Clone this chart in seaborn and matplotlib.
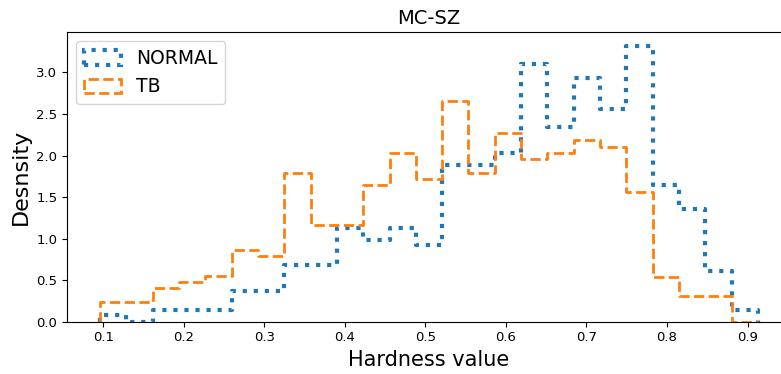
import numpy as np
import pandas as pd
import matplotlib
matplotlib.use("Agg")
import matplotlib.pyplot as plt
from matplotlib.patches import Patch
import seaborn as sns

# Hardness histogram bins (common to both groups)
HARD_MIN = 0.0959
HARD_MAX = 0.9131
N_BINS = 25

groups = ["NORMAL", "TB"]

# Density per bin, low to high hardness
normal_density = [0.08, 0.0, 0.141, 0.141, 0.141, 0.375, 0.375, 0.685, 0.685,
                  1.132, 0.979, 1.128, 0.918, 1.885, 1.885, 2.026, 3.10, 2.34,
                  2.93, 2.565, 3.32, 1.651, 1.357, 0.608, 0.141]
tb_density = [0.234, 0.234, 0.403, 0.483, 0.548, 0.858, 0.789, 1.792, 1.168,
              1.168, 1.643, 2.026, 1.712, 2.65, 1.792, 2.267, 1.957, 2.026,
              2.187, 2.098, 1.555, 0.544, 0.314, 0.314, 0.0]

edges = np.linspace(HARD_MIN, HARD_MAX, N_BINS + 1)
centers = (edges[:-1] + edges[1:]) / 2

df = pd.DataFrame({
    "hardness": np.concatenate([centers, centers]),
    "density": np.concatenate([normal_density, tb_density]),
    "group": np.repeat(groups, N_BINS),
})

colors = {"NORMAL": "#1f77b4", "TB": "#ff7f0e"}
styles = {"NORMAL": dict(linestyle=":", linewidth=3.0),
          "TB": dict(linestyle="--", linewidth=2.0)}

fig = plt.figure(figsize=(7.81, 3.74), dpi=100)
ax = fig.add_axes([0.0858, 0.1398, 0.927, 0.7746])

for g in groups:
    sub = df[df["group"] == g]
    sns.histplot(data=sub, x="hardness", weights="density", bins=edges.tolist(),
                 stat="count", element="step", fill=False,
                 color=colors[g], ax=ax, **styles[g])
    # open step outline: drop to the baseline at both outer edges
    line = ax.lines[-1]
    xs, ys = line.get_data()
    line.set_data(np.r_[xs[0], xs, xs[-1]], np.r_[0.0, ys, 0.0])

ax.set_title("MC-SZ", fontsize=14)
ax.set_xlabel("Hardness value", fontsize=15)
ax.set_ylabel("Desnsity", fontsize=16)
ax.tick_params(labelsize=9.5)
ax.set_xticks(np.arange(0.1, 0.95, 0.1))

handles = [Patch(facecolor="none", edgecolor=colors[g], **styles[g]) for g in groups]
ax.legend(handles, groups, loc="upper left", fontsize=13.5, handleheight=0.8)

fig.savefig("out.png", dpi=100)
